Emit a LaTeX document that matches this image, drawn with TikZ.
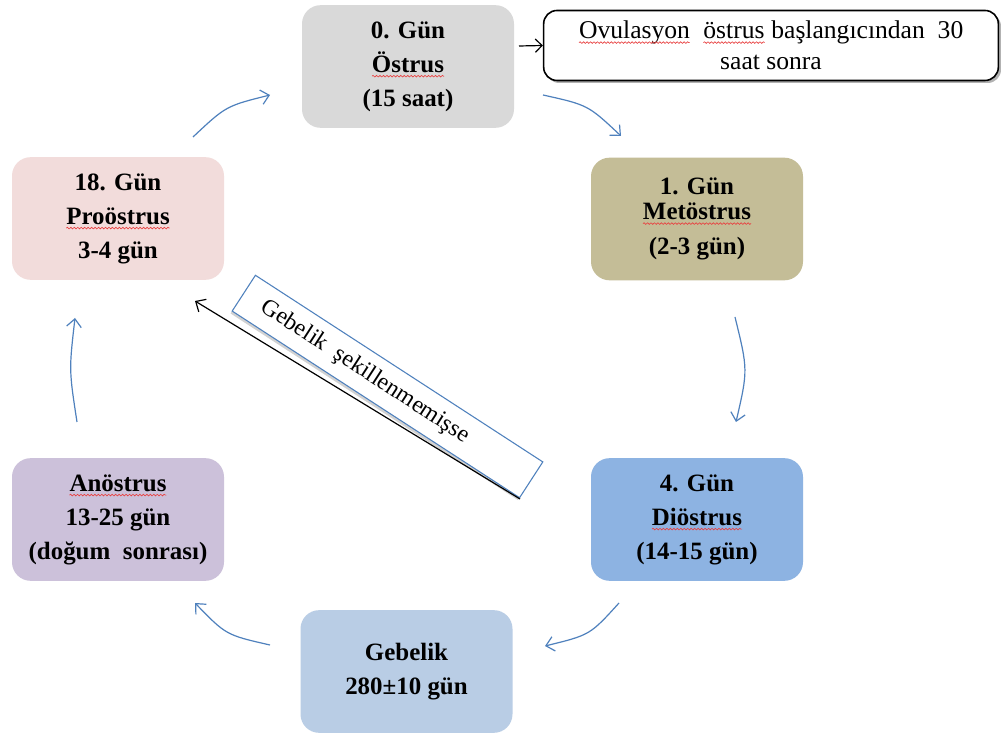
\documentclass[tikz,border=0pt]{standalone}
\usepackage{fontspec}
\setmainfont{Liberation Serif}
\usetikzlibrary{arrows.meta,decorations.pathmorphing,shadows}
\definecolor{cOst}{HTML}{D9D9D9}
\definecolor{cMet}{HTML}{C4BD97}
\definecolor{cPro}{HTML}{F2DCDB}
\definecolor{cDio}{HTML}{8DB3E2}
\definecolor{cAno}{HTML}{CCC1DA}
\definecolor{cGeb}{HTML}{B9CDE5}
\definecolor{arrblue}{HTML}{4F81BD}
\definecolor{sqred}{HTML}{E84040}
\newcommand\sqw[1]{\tikz[baseline=(w.base)]{\node[inner sep=0pt,outer sep=0pt,minimum width=0pt,minimum height=0pt,sharp corners](w){#1};\draw[sqline]([yshift=-3pt]w.base west)--([yshift=-3pt]w.base east);}}
\begin{document}
\begin{tikzpicture}[x=0.75pt,y=-0.75pt,
  phase/.style={rounded corners=14pt, minimum width=159pt, minimum height=92pt, inner sep=0pt, align=center, font=\fontsize{18.7}{25.5}\selectfont\bfseries},
  cyc/.style={draw=arrblue, line width=0.9pt, -{Straight Barb[length=6pt,width=11pt]}},
  blk/.style={draw=black, line width=0.9pt, -{Straight Barb[length=6pt,width=11pt]}},
  sqline/.style={draw=sqred, line width=0.5pt, sharp corners, decorate, decoration={snake,amplitude=0.6pt,segment length=2.6pt}}
]
\useasboundingbox (0,0) rectangle (1001,737);
\fill[white] (0,0) rectangle (1001,737);

\node[phase, fill=cOst] (ostrus) at (408,66.5) {0. Gün\\ \sqw{Östrus}\\ (15 saat)};
\node[phase, fill=cMet] (met) at (697,219) {1. Gün\\[-6.5pt] \sqw{Metöstrus}\\[1pt] (2-3 gün)};
\node[phase, fill=cDio] (dio) at (697,519.5) {4. Gün\\ \sqw{Diöstrus}\\ (14-15 gün)};
\node[phase, fill=cGeb] (geb) at (406.5,671.5) {Gebelik\\ 280±10 gün};
\node[phase, fill=cAno] (ano) at (118,519.5) {\sqw{Anöstrus}\\ 13-25 gün\\ (doğum\ \ sonrası)};
\node[phase, fill=cPro] (pro) at (118,218.5) {18. Gün\\ \sqw{Proöstrus}\\ 3-4 gün};

\fill[black!30, rounded corners=10pt] (546,13) rectangle (1001,83);
\node[draw=black, line width=1.2pt, rounded corners=10pt, fill=white, minimum width=341pt, minimum height=52.5pt, inner sep=0pt, align=center, font=\fontsize{19.2}{23.5}\selectfont] (call) at (771,45.5) {\sqw{Ovulasyon}\ \ \sqw{östrus} başlangıcından\ \ 30\\ saat sonra};

\coordinate (cs) at (519,46);
\draw[draw=black, line width=0.9pt, -{Straight Barb[length=5pt,width=10pt]}] (cs) -- (call.west);

\node[draw=arrblue, fill=white, line width=0.8pt, rotate=-33, minimum width=257pt, minimum height=32pt, inner sep=0pt, font=\fontsize{17.8}{20}\selectfont, drop shadow={shadow xshift=-1.2pt, shadow yshift=-1.8pt, opacity=0.35}] (lbl) at (387.5,386.5) {Gebelik\ \ şekillenmemişse\rule{40pt}{0pt}};

\coordinate (bs) at (520,499);
\coordinate (be) at (195,301);
\draw[blk] (bs) -- (be);

\coordinate (a1s) at (543,95);  \coordinate (a1e) at (621,136);
\coordinate (a2s) at (735,317); \coordinate (a2e) at (736,422);
\coordinate (a3s) at (619,603); \coordinate (a3e) at (545,646);
\coordinate (a4s) at (270,645); \coordinate (a4e) at (195,603);
\coordinate (a5s) at (77,422);  \coordinate (a5e) at (75,318);
\coordinate (a6s) at (193,137); \coordinate (a6e) at (270,95);
\draw[cyc] (a1s) .. controls (588,105) .. (a1e);
\draw[cyc] (a2s) .. controls (748,370) .. (a2e);
\draw[cyc] (a3s) .. controls (590,635) .. (a3e);
\draw[cyc] (a4s) .. controls (226,635) .. (a4e);
\draw[cyc] (a5s) .. controls (69,370) .. (a5e);
\draw[cyc] (a6s) .. controls (226,106) .. (a6e);
\end{tikzpicture}
\end{document}
